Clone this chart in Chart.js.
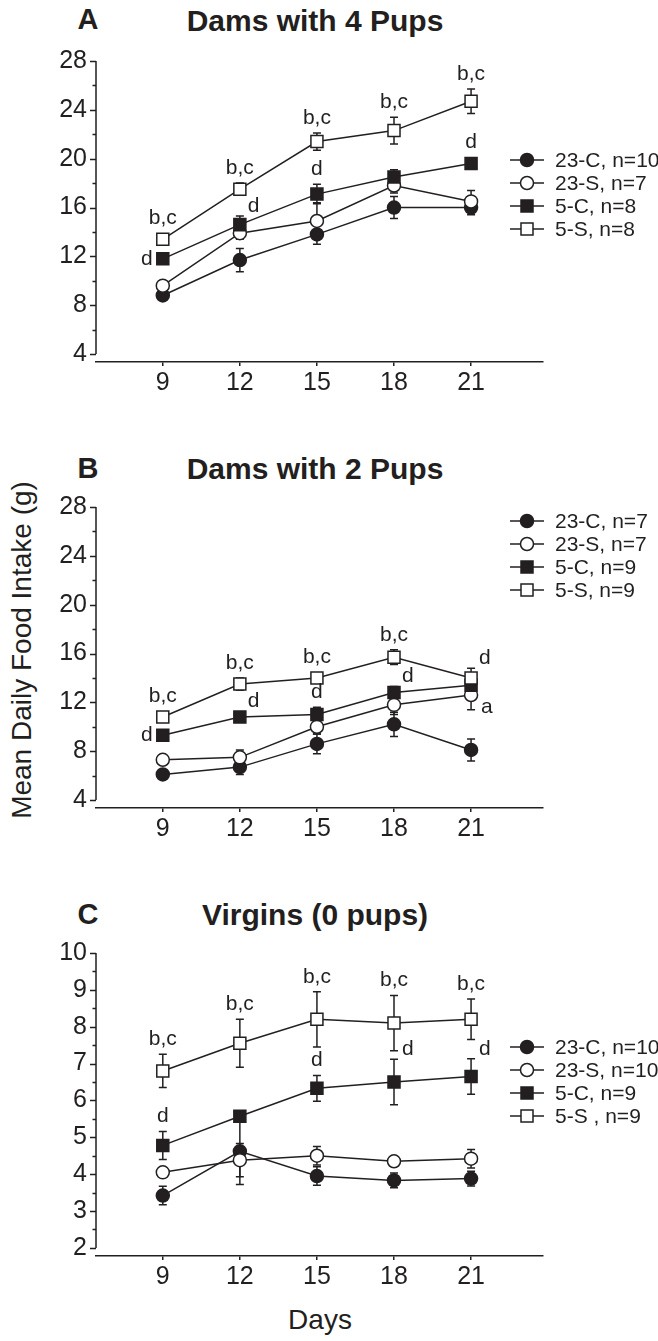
<!DOCTYPE html>
<html>
<head>
<meta charset="utf-8">
<script src="https://cdn.jsdelivr.net/npm/chart.js@4.4.1/dist/chart.umd.min.js"></script>
<style>
  body { margin: 0; background: #fff; font-family: "Liberation Sans", Arial, sans-serif; color: #231f20; }
  #fig { position: relative; width: 658px; height: 1341px; overflow: hidden; }
  .pane { position: absolute; left: 0; width: 658px; height: 420px; }
  .txt { position: absolute; transform: translate(-50%, -50%); white-space: nowrap; }
  .title { font-weight: bold; font-size: 30px; }
  .letter { font-weight: bold; font-size: 29px; }
  .axisTitle { font-size: 28px; }
</style>
</head>
<body>
<div id="fig">
  <div class="txt letter" style="left:88px; top:19px">A</div>
  <div class="txt title" style="left:315px; top:21px">Dams with 4 Pups</div>
  <div class="txt letter" style="left:88px; top:468px">B</div>
  <div class="txt title" style="left:315px; top:469px">Dams with 2 Pups</div>
  <div class="txt letter" style="left:88px; top:914px">C</div>
  <div class="txt title" style="left:315px; top:915px">Virgins (0 pups)</div>
  <div class="txt axisTitle" style="left:22px; top:650px; transform: translate(-50%, -50%) rotate(-90deg)">Mean Daily Food Intake (g)</div>
  <div class="txt axisTitle" style="left:320px; top:1320px">Days</div>

  <div class="pane" style="top:0px"><canvas id="chartA"></canvas></div>
  <div class="pane" style="top:440px"><canvas id="chartB"></canvas></div>
  <div class="pane" style="top:890px"><canvas id="chartC"></canvas></div>
</div>

<script>
// ---- data ----
const days = [9, 12, 15, 18, 21]

// Panel A: dams with 4 pups
const labelsA = ['23-C, n=10', '23-S, n=7', '5-C, n=8', '5-S, n=8']
const c23A = [8.8, 11.7, 13.8, 16.0, 16.0]
const s23A = [9.6, 13.9, 14.9, 17.8, 16.5]
const c5A = [11.8, 14.6, 17.1, 18.5, 19.6]
const s5A = [13.4, 17.5, 21.4, 22.3, 24.7]
const c23AErr = [0.3, 0.95, 0.8, 0.9, 0.6]
const s23AErr = [0.3, 0.5, 1.5, 0.6, 0.9]
const c5AErr = [0.3, 0.7, 0.8, 0.6, 0.3]
const s5AErr = [0.3, 0.5, 0.7, 1.1, 1.0]
const yTicksA = [4, 8, 12, 16, 20, 24, 28]

// Panel B: dams with 2 pups
const labelsB = ['23-C, n=7', '23-S, n=7', '5-C, n=9', '5-S, n=9']
const c23B = [6.1, 6.7, 8.6, 10.2, 8.1]
const s23B = [7.3, 7.5, 10.0, 11.8, 12.6]
const c5B = [9.3, 10.8, 11.0, 12.8, 13.4]
const s5B = [10.8, 13.5, 14.0, 15.7, 14.0]
const c23BErr = [0.3, 0.6, 0.8, 1.0, 0.9]
const s23BErr = [0.3, 0.6, 0.6, 0.8, 1.2]
const c5BErr = [0.3, 0.3, 0.6, 0.5, 0.5]
const s5BErr = [0.3, 0.5, 0.4, 0.6, 0.8]
const yTicksB = [4, 8, 12, 16, 20, 24, 28]

// Panel C: virgins
const labelsC = ['23-C, n=10', '23-S, n=10', '5-C, n=9', '5-S , n=9']
const c23C = [3.42, 4.62, 3.95, 3.83, 3.88]
const s23C = [4.05, 4.38, 4.5, 4.35, 4.42]
const c5C = [4.78, 5.57, 6.33, 6.5, 6.65]
const s5C = [6.8, 7.55, 8.2, 8.1, 8.2]
const c23CErr = [0.25, 0.9, 0.25, 0.2, 0.2]
const s23CErr = [0.1, 0.45, 0.25, 0.12, 0.25]
const c5CErr = [0.38, 0.1, 0.35, 0.62, 0.48]
const s5CErr = [0.45, 0.65, 0.75, 0.75, 0.55]
const yTicksC = [2, 3, 4, 5, 6, 7, 8, 9, 10]

// significance letters: [series index, day index, text, placement]
const notesA = [
  [3, 0, 'b,c', 'above'], [3, 1, 'b,c', 'above'], [3, 2, 'b,c', 'above'], [3, 3, 'b,c', 'above'], [3, 4, 'b,c', 'above'],
  [2, 0, 'd', 'left'], [2, 1, 'd', 'upRight'], [2, 2, 'd', 'above'], [2, 4, 'd', 'above'],
]
const notesB = [
  [3, 0, 'b,c', 'above'], [3, 1, 'b,c', 'above'], [3, 2, 'b,c', 'above'], [3, 3, 'b,c', 'above'],
  [2, 0, 'd', 'left'], [2, 1, 'd', 'upRight'], [2, 2, 'd', 'above'], [2, 3, 'd', 'upRight'],
  [3, 4, 'd', 'upRight'], [1, 4, 'a', 'downRight'],
]
const notesC = [
  [3, 0, 'b,c', 'above'], [3, 1, 'b,c', 'above'], [3, 2, 'b,c', 'above'], [3, 3, 'b,c', 'above'], [3, 4, 'b,c', 'above'],
  [2, 0, 'd', 'above'], [2, 2, 'd', 'above'], [2, 3, 'd', 'upRight'], [2, 4, 'd', 'upRight'],
]

// ---- style ----
const INK = '#231f20'
const FONT = '"Liberation Sans", Arial, sans-serif'
const SERIES_STYLE = [
  { pointStyle: 'circle', pointRadius: 6.5, pointBackgroundColor: INK, order: 4 },
  { pointStyle: 'circle', pointRadius: 6.5, pointBackgroundColor: '#fff', order: 3 },
  { pointStyle: 'rect', pointRadius: 8.5, pointBackgroundColor: INK, order: 2 },
  { pointStyle: 'rect', pointRadius: 8.5, pointBackgroundColor: '#fff', order: 1 },
]

const extras = {
  id: 'extras',

  beforeDatasetsDraw(chart, args, opts) {
    const { ctx } = chart
    const xs = chart.scales.x, ys = chart.scales.y
    ctx.save()
    ctx.strokeStyle = INK
    ctx.lineWidth = 1.5
    opts.errors.forEach((errs, i) => {
      const vals = opts.series[i]
      errs.forEach((e, j) => {
        const x = xs.getPixelForValue(days[j])
        const yT = ys.getPixelForValue(vals[j] + e)
        const yB = ys.getPixelForValue(vals[j] - e)
        ctx.beginPath()
        ctx.moveTo(x, yT); ctx.lineTo(x, yB)
        ctx.moveTo(x - 4, yT); ctx.lineTo(x + 4, yT)
        ctx.moveTo(x - 4, yB); ctx.lineTo(x + 4, yB)
        ctx.stroke()
      })
    })
    ctx.restore()
  },

  afterDatasetsDraw(chart, args, opts) {
    const { ctx, chartArea } = chart
    const xs = chart.scales.x, ys = chart.scales.y
    ctx.save()
    ctx.fillStyle = INK
    ctx.font = '21px ' + FONT
    ctx.textBaseline = 'middle'

    // letters
    opts.notes.forEach(([s, j, text, where]) => {
      const v = opts.series[s][j], e = opts.errors[s][j]
      const x = xs.getPixelForValue(days[j])
      const y = ys.getPixelForValue(v)
      const yTop = ys.getPixelForValue(v + e)
      if (where === 'above') {
        ctx.textAlign = 'center'
        ctx.fillText(text, x, Math.min(yTop, y - 6) - 15)
      } else if (where === 'upRight') {
        ctx.textAlign = 'left'
        ctx.fillText(text, x + 8, Math.min(yTop, y - 6) - 10)
      } else if (where === 'left') {
        ctx.textAlign = 'right'
        ctx.fillText(text, x - 10, y)
      } else if (where === 'downRight') {
        ctx.textAlign = 'left'
        ctx.fillText(text, x + 10, y + 12)
      }
    })

    // legend
    const lx = 527
    ctx.textAlign = 'left'
    chart.data.datasets.forEach((ds, i) => {
      const y = chartArea.top + opts.legendTop + i * 23
      ctx.strokeStyle = INK
      ctx.lineWidth = 1.5
      ctx.beginPath()
      ctx.moveTo(lx - 17, y); ctx.lineTo(lx + 17, y)
      ctx.stroke()
      ctx.beginPath()
      if (ds.pointStyle === 'circle') ctx.arc(lx, y, 6.5, 0, Math.PI * 2)
      else ctx.rect(lx - 6, y - 6, 12, 12)
      ctx.fillStyle = ds.pointBackgroundColor
      ctx.fill()
      ctx.stroke()
      ctx.fillStyle = INK
      ctx.fillText(ds.label, 555, y + 1)
    })
    ctx.restore()
  },

  afterDraw(chart, args, opts) {
    // offset y axis with major and minor ticks
    const { ctx, chartArea } = chart
    const ys = chart.scales.y
    const x = chartArea.left
    const lo = opts.yTicks[0], hi = opts.yTicks[opts.yTicks.length - 1]
    const step = opts.yTicks[1] - opts.yTicks[0]
    ctx.save()
    ctx.strokeStyle = INK
    ctx.lineWidth = 1.5
    ctx.beginPath()
    ctx.moveTo(x, ys.getPixelForValue(lo))
    ctx.lineTo(x, ys.getPixelForValue(hi))
    for (let k = 0; k <= (hi - lo) / step * 2; k++) {
      const v = lo + k * step / 2
      const py = Math.round(ys.getPixelForValue(v)) + 0.5
      const len = k % 2 === 0 ? 6 : 3.5
      ctx.moveTo(x - len, py); ctx.lineTo(x, py)
    }
    ctx.stroke()
    ctx.restore()
  }
}

function makePanel(id, labels, series, errors, yTicks, notes, layout) {
  const datasets = series.map((vals, i) => Object.assign({
    label: labels[i],
    data: days.map((d, j) => ({ x: d, y: vals[j] })),
    borderColor: INK,
    borderWidth: 1.5,
    pointBorderColor: INK,
    pointBorderWidth: 1.5,
    pointHoverRadius: 0,
    tension: 0,
    fill: false,
  }, SERIES_STYLE[i]))

  return new Chart(document.getElementById(id), {
    type: 'line',
    data: { datasets },
    plugins: [extras],
    options: {
      responsive: true,
      maintainAspectRatio: false,
      animation: false,
      events: [],
      layout: { padding: { left: 0, right: 115, top: layout.top, bottom: layout.bottom } },
      plugins: {
        legend: { display: false },
        tooltip: { enabled: false },
        extras: { series, errors, notes, yTicks, legendTop: layout.legendTop },
      },
      scales: {
        x: {
          type: 'linear',
          min: 6.4,
          max: 23.8,
          afterBuildTicks: (s) => { s.ticks = days.map(v => ({ value: v })) },
          afterFit: (s) => { s.height = 40 },
          border: { display: true, color: INK, width: 1.5 },
          grid: { display: true, drawOnChartArea: false, drawTicks: true, tickLength: 4, color: INK, lineWidth: 1.5 },
          ticks: { color: INK, font: { family: FONT, size: 25 }, padding: 2, maxRotation: 0 },
        },
        y: {
          type: 'linear',
          min: layout.yMin,
          max: yTicks[yTicks.length - 1],
          afterBuildTicks: (s) => { s.ticks = yTicks.map(v => ({ value: v })) },
          afterFit: (s) => { s.width = 96 },
          border: { display: false },
          grid: { display: false, drawTicks: false },
          ticks: { color: INK, font: { family: FONT, size: 25 }, padding: 9 },
        },
      },
    },
  })
}

makePanel('chartA', labelsA, [c23A, s23A, c5A, s5A], [c23AErr, s23AErr, c5AErr, s5AErr], yTicksA, notesA,
  { top: 61, bottom: 18, yMin: 3.35, legendTop: 99 })
makePanel('chartB', labelsB, [c23B, s23B, c5B, s5B], [c23BErr, s23BErr, c5BErr, s5BErr], yTicksB, notesB,
  { top: 67, bottom: 12, yMin: 3.35, legendTop: 14 })
makePanel('chartC', labelsC, [c23C, s23C, c5C, s5C], [c23CErr, s23CErr, c5CErr, s5CErr], yTicksC, notesC,
  { top: 63, bottom: 14, yMin: 1.78, legendTop: 94 })
</script>
</body>
</html>
